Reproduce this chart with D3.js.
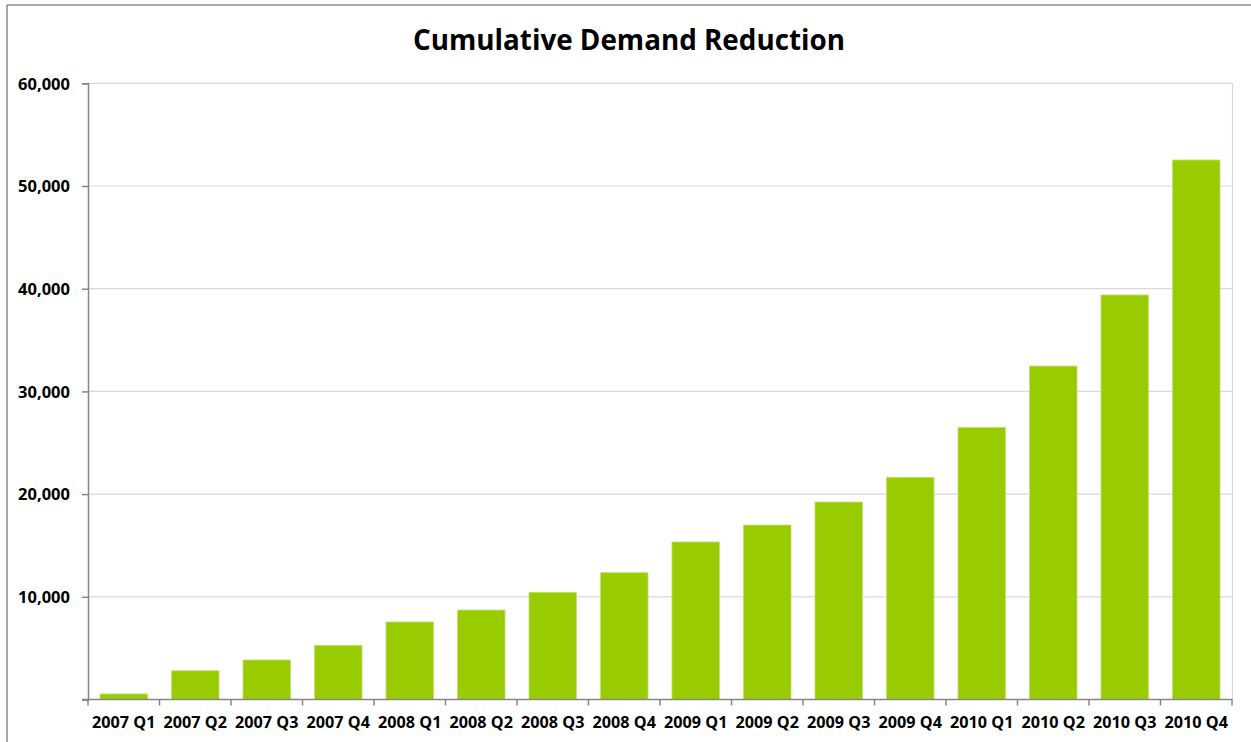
<!DOCTYPE html>
<html>
<head>
<meta charset="utf-8">
<script src="https://cdn.jsdelivr.net/npm/d3@7/dist/d3.min.js"></script>
<style>
  html, body { margin: 0; padding: 0; background: #fff; }
  svg { display: block; }
  text { font-family: "Open Sans", "Liberation Sans", sans-serif; font-weight: bold; fill: #000; }
</style>
</head>
<body>
<svg id="chart" width="1251" height="742"></svg>
<script>
// Quarterly cumulative demand reduction
const categories = [
  "2007 Q1", "2007 Q2", "2007 Q3", "2007 Q4",
  "2008 Q1", "2008 Q2", "2008 Q3", "2008 Q4",
  "2009 Q1", "2009 Q2", "2009 Q3", "2009 Q4",
  "2010 Q1", "2010 Q2", "2010 Q3", "2010 Q4"
];
const values = [
  540, 2800, 3850, 5280,
  7550, 8710, 10440, 12350,
  15340, 16990, 19230, 21640,
  26500, 32470, 39390, 52530
];
const yTicks = [0, 10000, 20000, 30000, 40000, 50000, 60000];
const title = "Cumulative Demand Reduction";

const svg = d3.select("#chart");
const plot = { left: 88, right: 1232, top: 83.3, bottom: 699.5 };

// outer frame (left and top edges)
svg.append("line").attr("x1", 7).attr("x2", 7).attr("y1", 5).attr("y2", 742)
  .attr("stroke", "#8c8c8c").attr("stroke-width", 1.5);
svg.append("line").attr("x1", 7).attr("x2", 1251).attr("y1", 5).attr("y2", 5)
  .attr("stroke", "#8c8c8c").attr("stroke-width", 1.5);

const x = d3.scaleBand()
  .domain(categories)
  .range([plot.left, plot.right])
  .paddingInner(0.335)
  .paddingOuter(0.1675);

const y = d3.scaleLinear()
  .domain([0, 60000])
  .range([plot.bottom, plot.top]);

// horizontal gridlines
svg.append("g")
  .selectAll("line")
  .data(yTicks.filter(d => d > 0))
  .join("line")
  .attr("x1", plot.left).attr("x2", plot.right)
  .attr("y1", d => y(d)).attr("y2", d => y(d))
  .attr("stroke", "#d9d9d9").attr("stroke-width", 1.2);

// plot area right edge
svg.append("line")
  .attr("x1", plot.right + 0.5).attr("x2", plot.right + 0.5)
  .attr("y1", plot.top).attr("y2", plot.bottom)
  .attr("stroke", "#d9d9d9").attr("stroke-width", 1.2);

// bars
svg.append("g")
  .selectAll("rect")
  .data(values)
  .join("rect")
  .attr("x", (d, i) => x(categories[i]))
  .attr("width", x.bandwidth())
  .attr("y", d => y(d))
  .attr("height", d => y(0) - y(d))
  .attr("fill", "#99cc00")
  .attr("stroke", "#c2e07a")
  .attr("stroke-width", 0.8);

// y axis (zero label left off)
const yAxis = d3.axisLeft(y)
  .tickValues(yTicks)
  .tickFormat(d => d === 0 ? "" : d3.format(",")(d))
  .tickSize(6)
  .tickPadding(12);
const gy = svg.append("g").attr("transform", `translate(${plot.left},0)`).call(yAxis);
gy.select(".domain").attr("stroke", "#868686").attr("stroke-width", 1.5);
gy.selectAll(".tick line").attr("stroke", "#868686").attr("stroke-width", 1.5);
gy.selectAll(".tick text").attr("font-size", 16.5).attr("font-family", null)
  .attr("dy", "0.35em").attr("fill", "#000");

// x axis with ticks at band boundaries
const gx = svg.append("g").attr("transform", `translate(0,${plot.bottom})`);
gx.append("line").attr("x1", plot.left - 6).attr("x2", plot.right + 0.5)
  .attr("y1", 0).attr("y2", 0)
  .attr("stroke", "#868686").attr("stroke-width", 1.5);
const step = x.step();
const bounds = d3.range(categories.length + 1).map(i => plot.left + i * step);
gx.selectAll("line.tk")
  .data(bounds)
  .join("line")
  .attr("class", "tk")
  .attr("x1", d => d).attr("x2", d => d)
  .attr("y1", 0).attr("y2", 6)
  .attr("stroke", "#868686").attr("stroke-width", 1.5);
gx.selectAll("text")
  .data(categories)
  .join("text")
  .attr("x", d => x(d) + x.bandwidth() / 2)
  .attr("y", 28.5)
  .attr("text-anchor", "middle")
  .attr("font-size", 16.2)
  .text(d => d);

// title
svg.append("text")
  .attr("x", 629)
  .attr("y", 50)
  .attr("text-anchor", "middle")
  .attr("font-size", 27.8)
  .text(title);
</script>
</body>
</html>
